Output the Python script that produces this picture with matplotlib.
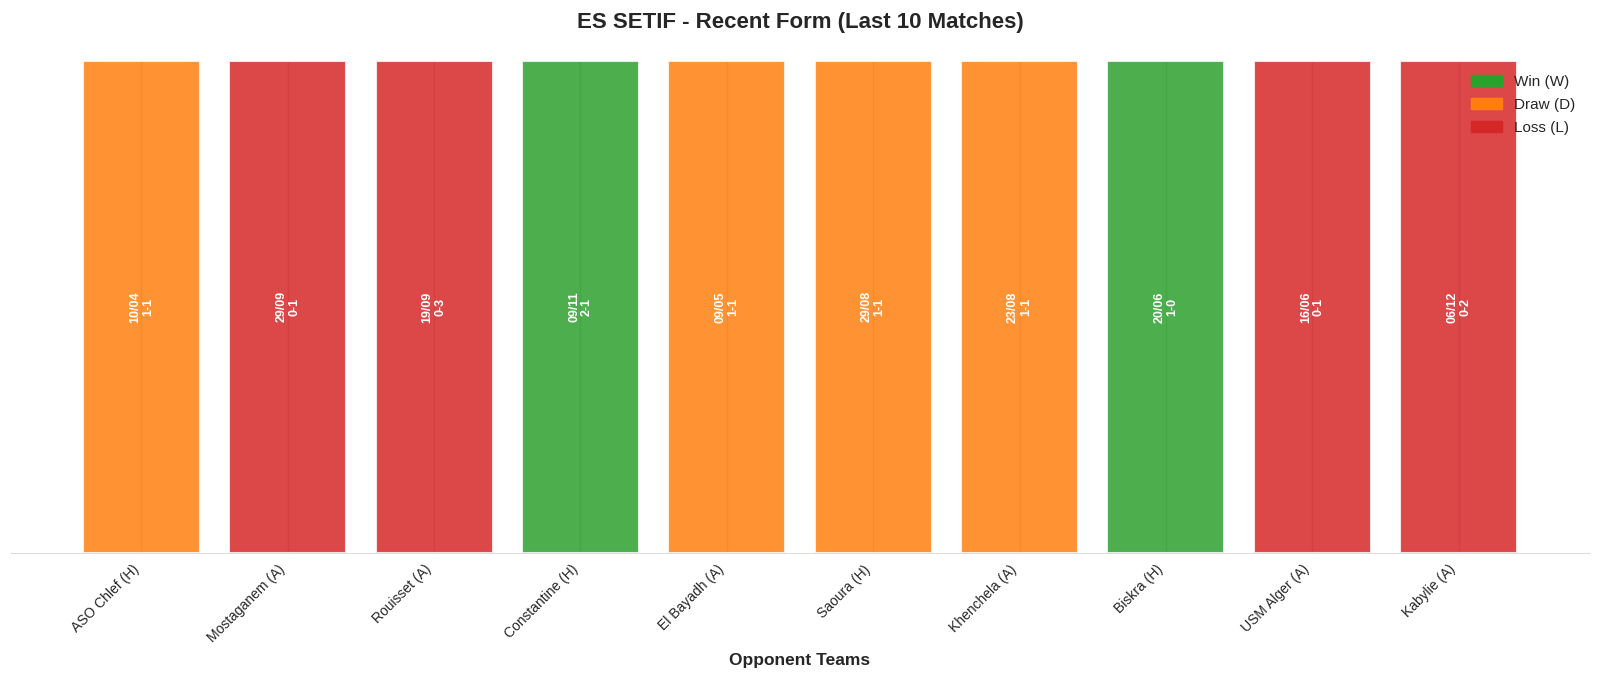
import matplotlib
matplotlib.use("Agg")
import matplotlib.pyplot as plt
from matplotlib.patches import Patch
import seaborn as sns

opponents = ["ASO Chlef (H)", "Mostaganem (A)", "Rouisset (A)", "Constantine (H)",
             "El Bayadh (A)", "Saoura (H)", "Khenchela (A)", "Biskra (H)",
             "USM Alger (A)", "Kabylie (A)"]
results = ["D", "L", "L", "W", "D", "D", "D", "W", "L", "L"]
dates = ["10/04", "29/09", "19/09", "09/11", "09/05", "29/08", "23/08", "20/06", "16/06", "06/12"]
scores = ["1-1", "0-1", "0-3", "2-1", "1-1", "1-1", "1-1", "1-0", "0-1", "0-2"]
heights = [1] * len(opponents)

color_map = {"W": "#2ca02c", "D": "#ff7f0e", "L": "#d62728"}

sns.set_style("whitegrid")
plt.rcParams["font.family"] = ["Liberation Sans", "DejaVu Sans"]

fig, ax = plt.subplots(figsize=(16, 6.79), dpi=100)
x = list(range(len(opponents)))
colors = [color_map[r] for r in results]
bars = ax.bar(x, heights, width=0.8, color=colors, alpha=0.85,
              edgecolor="white", linewidth=1.5)

for xi, d, s in zip(x, dates, scores):
    ax.text(xi, 0.5, f"{d}\n{s}", rotation=90, ha="center", va="center",
            color="white", fontweight="bold", fontsize=9, linespacing=1.1)

ax.set_xticks(x)
ax.set_xticklabels(opponents, rotation=45, ha="right", fontsize=10)
ax.set_yticks([])
ax.set_ylim(0, 1)
ax.set_xlabel("Opponent Teams", fontsize=12.5, fontweight="bold", labelpad=6)
ax.set_title("ES SETIF - Recent Form (Last 10 Matches)", fontsize=16,
             fontweight="bold", pad=24)
ax.grid(axis="y", visible=False)
ax.grid(axis="x", color="#cccccc", linewidth=1)
ax.set_axisbelow(True)
for side in ["left", "right", "top"]:
    ax.spines[side].set_visible(False)
ax.spines["bottom"].set_color("#dddddd")

handles = [Patch(color=color_map["W"], label="Win (W)"),
           Patch(color=color_map["D"], label="Draw (D)"),
           Patch(color=color_map["L"], label="Loss (L)")]
ax.legend(handles=handles, loc="upper right", frameon=False, fontsize=11,
          labelspacing=0.6)

fig.subplots_adjust(left=0.007, right=0.993, top=0.910, bottom=0.186)
fig.savefig("out.png", dpi=100)
